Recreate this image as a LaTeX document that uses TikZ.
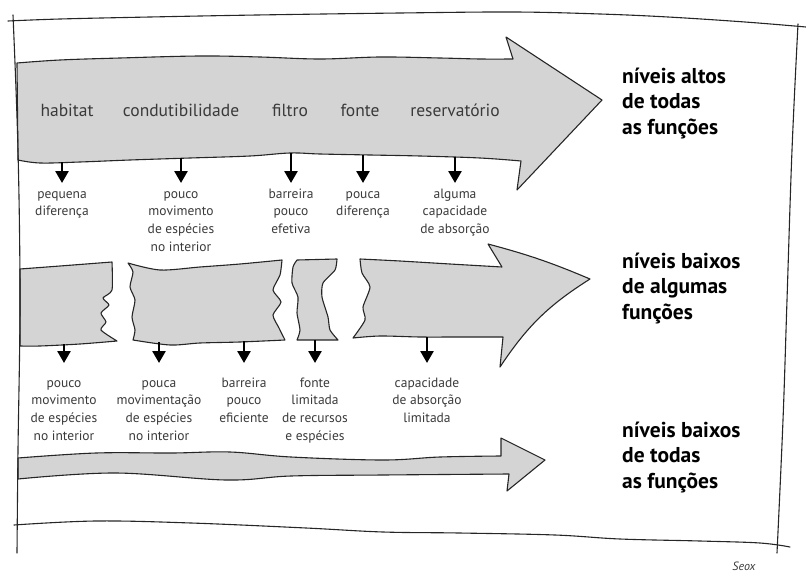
\documentclass[tikz,border=0pt]{standalone}
\usepackage{fontspec}
\setmainfont{PT Sans}
\usepackage{tikz}
\usetikzlibrary{arrows.meta}
\definecolor{bandgray}{HTML}{D4D4D4}
\definecolor{inkgray}{HTML}{3A3A3A}

\begin{document}
\begin{tikzpicture}[
  x=1pt, y=-1pt,
  sketch/.style={line width=1.1pt, draw=black!85, line join=round, line cap=round},
  band/.style={sketch, fill=bandgray},
  func/.style={font=\fontsize{17.5}{20}\selectfont, text=inkgray, inner sep=0pt, anchor=base},
  lbl/.style={font=\fontsize{13.5}{17.8}\selectfont, text=inkgray, align=center, inner sep=0pt, anchor=north},
  lvl/.style={font=\fontsize{21.5}{25.5}\selectfont\bfseries, align=left, inner sep=0pt, anchor=north west},
  drop/.style={-{Triangle[width=13pt,length=12pt]}, line width=2.6pt, black}
]
\useasboundingbox (0,0) rectangle (806,578);

% faixa de cima: niveis altos
\draw[band] plot[smooth, tension=0.6] coordinates {(17,63) (60,60) (120,58) (200,56) (260,57) (320,59) (380,57) (440,58) (480,59) (513,59)}
  -- (506,37) -- (602,100) -- (517,190) -- (521,161)
  -- plot[smooth, tension=0.6] coordinates {(521,161) (480,158) (420,156) (370,155) (320,154) (290,153) (250,156) (190,158) (130,160) (80,162) (40,163) (18,160)}
  -- cycle;

% faixa do meio: pedacos
\draw[band] plot[smooth, tension=0.5] coordinates {(20,269) (60,266) (112,262)}
  -- plot[smooth, tension=0.4] coordinates {(112,262) (112,290) (103,298) (109,305) (101,313) (106,322) (101,330) (117,341)}
  -- plot[smooth, tension=0.5] coordinates {(117,341) (80,344) (40,346) (20,346)} -- cycle;
\draw[band] plot[smooth, tension=0.5] coordinates {(128,263) (160,270) (200,267) (240,264) (282,260)}
  -- plot[smooth, tension=0.4] coordinates {(282,260) (280,275) (273,290) (281,302) (273,315) (279,328) (285,340)}
  -- plot[smooth, tension=0.5] coordinates {(285,340) (240,342) (200,343) (170,345) (133,340)}
  -- plot[smooth, tension=0.4] coordinates {(133,340) (135,330) (132,317) (135,300) (130,287) (133,272) (128,263)} -- cycle;
\draw[band] (297,260) -- (337,259)
  -- plot[smooth, tension=0.4] coordinates {(337,259) (335,270) (323,283) (322,297) (328,317) (330,330) (338,340)}
  -- (297,340)
  -- plot[smooth, tension=0.4] coordinates {(297,340) (300,330) (297,313) (298,297) (292,283) (293,267) (297,260)} -- cycle;
\draw[band] plot[smooth, tension=0.5] coordinates {(360,259) (400,261) (450,264) (502,267)}
  -- (488,244) to[bend left=4] (590,279) to[bend right=12] (500,367) -- (503,337)
  -- plot[smooth, tension=0.5] coordinates {(503,337) (460,337) (420,337) (380,336) (353,338)}
  -- plot[smooth, tension=0.4] coordinates {(353,338) (365,320) (363,307) (370,287) (362,273) (360,259)} -- cycle;

% faixa de baixo: fina
\draw[band] plot[smooth, tension=0.6] coordinates {(18,458) (96,453) (172,453) (230,452) (291,457) (383,460) (440,457) (501,456)}
  -- (501,438) -- (545,460) -- (507,491) -- (509,474)
  -- plot[smooth, tension=0.6] coordinates {(509,474) (383,475) (291,476) (226,480) (115,473) (18,479)}
  -- cycle;

% moldura
\draw[sketch] plot[smooth, tension=0.6] coordinates {(8,21) (60,19) (150,17) (257,15) (400,13) (514,12) (600,14) (668,17) (745,22) (806,27)};
\draw[sketch] plot[smooth, tension=0.6] coordinates {(13,15) (18,150) (20,300) (18,450) (17,553)};
\draw[sketch] plot[smooth, tension=0.6] coordinates {(798,24) (792,150) (787,300) (783,420) (777,553)};
\draw[sketch] plot[smooth, tension=0.6] coordinates {(14,525) (96,521) (191,523) (306,528) (383,532) (459,533) (555,535) (620,539) (700,541) (760,543) (790,547)};

% funcoes
\node[func] (hab) at (67,117) {habitat};
\node[func] (con) at (181,117) {condutibilidade};
\node[func] (fil) at (290,117) {filtro};
\node[func] (fon) at (360,117) {fonte};
\node[func] (res) at (455,117) {reservatório};

% efeitos, linha de cima
\foreach \n/\x/\y/\txt in {
  1/62/162/{pequena\\diferença},
  2/181/158/{pouco\\movimento\\de espécies\\no interior},
  3/291/153/{barreira\\pouco\\efetiva},
  4/363/155/{pouca\\diferença},
  5/455/157/{alguma\\capacidade\\de absorção}} {
  \coordinate (ta\n) at (\x,\y);
  \node[lbl] (pa\n) at (\x,185.5) {\strut\txt};
  \draw[drop, shorten >=2.5pt] (ta\n) -- (pa\n);
}

% efeitos, linha do meio
\foreach \n/\x/\y/\txt in {
  1/64/344/{pouco\\movimento\\de espécies\\no interior},
  2/159/342/{pouca\\movimentação\\de espécies\\no interior},
  3/244/341/{barreira\\pouco\\eficiente},
  4/315/340/{fonte\\limitada\\de recursos\\e espécies},
  5/427/337/{capacidade\\de absorção\\limitada}} {
  \coordinate (tb\n) at (\x,\y);
  \node[lbl] (pb\n) at (\x,374.5) {\strut\txt};
  \draw[drop, shorten >=11.5pt] (tb\n) -- (pb\n);
}

% niveis
\node[lvl] (alto) at (622,65) {\strut níveis altos\\de todas\\as funções};
\node[lvl] (meio) at (622,250) {\strut níveis baixos\\de algumas\\funções};
\node[lvl] (baixo) at (622,419) {\strut níveis baixos\\de todas\\as funções};

\node[font=\fontsize{12}{12}\selectfont\itshape, text=inkgray] (sig) at (744,566) {Seox};
\end{tikzpicture}
\end{document}
